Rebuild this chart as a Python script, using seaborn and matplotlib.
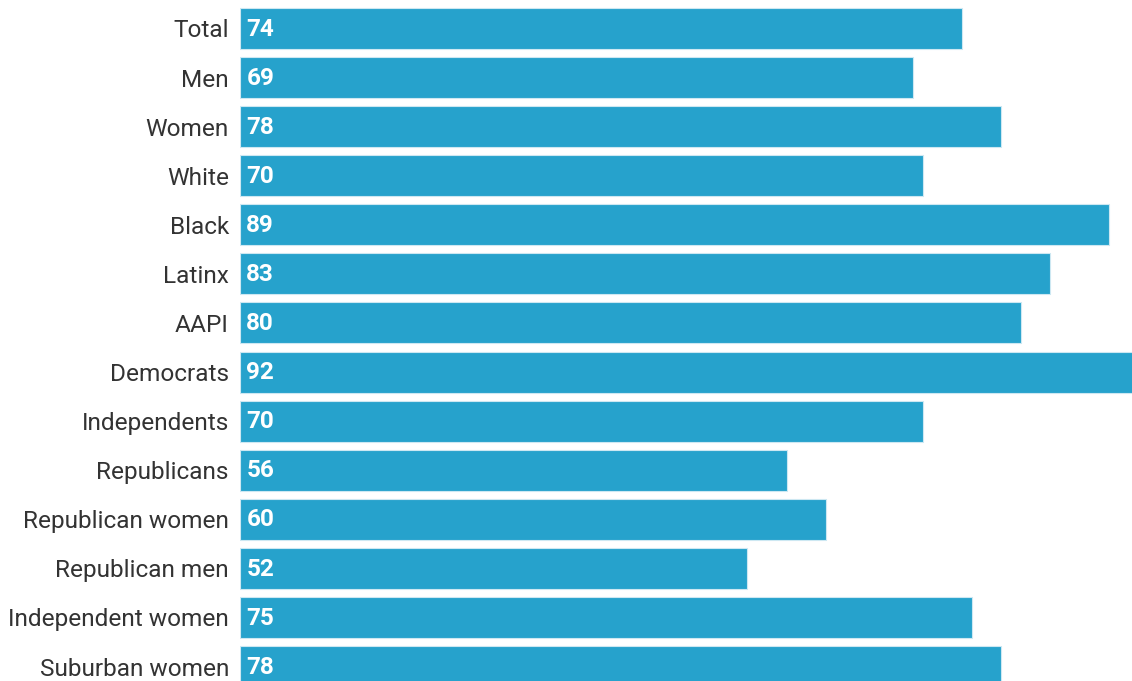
import pandas as pd
import matplotlib.pyplot as plt
import seaborn as sns

# datos
grupos = ["Total", "Men", "Women", "White", "Black", "Latinx", "AAPI", "Democrats",
          "Independents", "Republicans", "Republican women", "Republican men",
          "Independent women", "Suburban women"]
valores = [74, 69, 78, 70, 89, 83, 80, 92, 70, 56, 60, 52, 75, 78]

df = pd.DataFrame({"grupo": grupos, "valor": valores})

sns.set_style("white")
plt.rcParams["font.family"] = ["Roboto", "DejaVu Sans"]

fig = plt.figure(figsize=(11.32, 6.81), dpi=100)
ax = fig.add_axes([240 / 1132, 0, 1 - 240 / 1132, 1])

sns.barplot(data=df, x="valor", y="grupo", orient="h", color="#26a2cc",
            saturation=1, width=0.835, edgecolor="#cde8f2", linewidth=0.8, ax=ax)

ax.set_xlim(0, 91.4)
ax.set_ylim(13.295, -0.58)
ax.set_xlabel("")
ax.set_ylabel("")
ax.set_xticks([])
ax.tick_params(axis="y", length=0, pad=8, labelsize=17.55, labelcolor="#333333")
sns.despine(ax=ax, left=True, bottom=True)

# valores dentro de cada barra
for i, v in enumerate(valores):
    ax.annotate(str(v), xy=(0, i), xytext=(4.5, -0.5), textcoords="offset points",
                va="center", ha="left", color="white", fontsize=17.5, fontweight="bold")

fig.savefig("out.png", dpi=100)
